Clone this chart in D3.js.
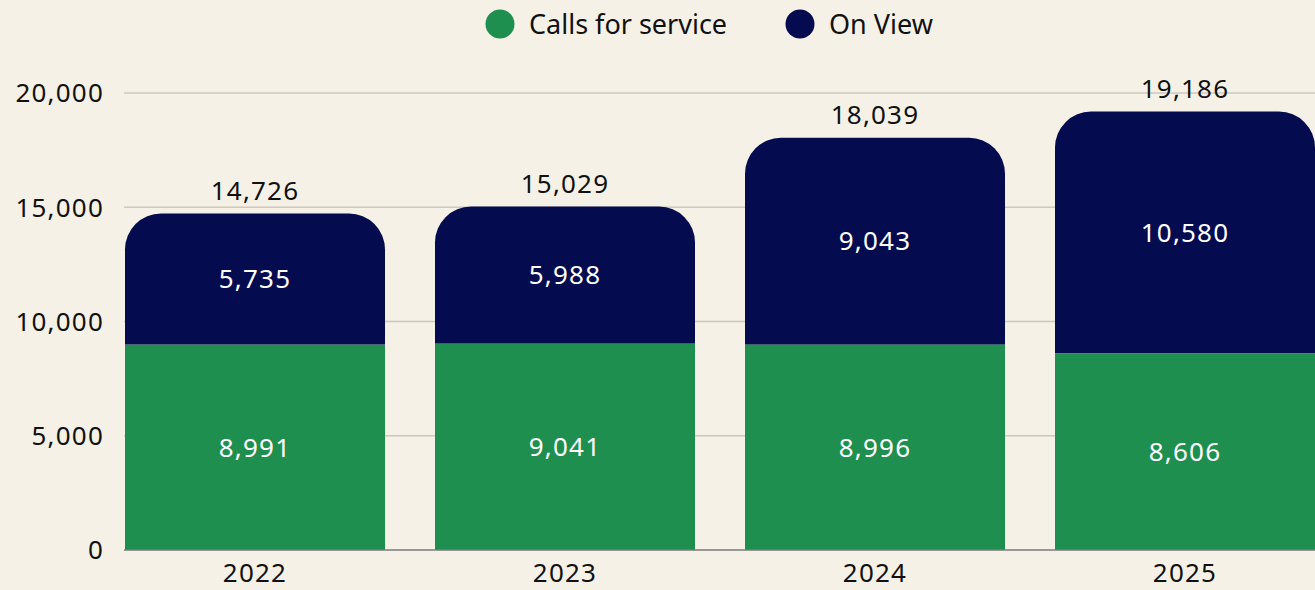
<!DOCTYPE html>
<html>
<head>
<meta charset="utf-8">
<script src="https://cdn.jsdelivr.net/npm/d3@7"></script>
<style>
  html, body { margin: 0; padding: 0; background: #f5f1e6; }
  svg { display: block; font-family: "Noto Sans", "Open Sans", sans-serif; }
  .num { letter-spacing: 1.2px; }
</style>
</head>
<body>
<svg id="mainsvg" width="1315" height="590"></svg>
<script>

// data
const years = ["2022", "2023", "2024", "2025"]
const callsForService = [8991, 9041, 8996, 8606]
const onView = [5735, 5988, 9043, 10580]
const totals = [14726, 15029, 18039, 19186]
const yTicks = [0, 5000, 10000, 15000, 20000]

const WIDTH = 1315, HEIGHT = 590
const MARGIN = { left: 125, right: 0, top: 93, bottom: 40 }
const GREEN = "#1e8f4e", NAVY = "#040b4f"
const FS = 26

let svg = d3.select("#mainsvg")

let x = d3.scaleBand()
  .domain(years)
  .range([MARGIN.left, WIDTH])
  .paddingInner(50 / 310)
  .paddingOuter(0)

let y = d3.scaleLinear()
  .domain([0, 20000])
  .range([HEIGHT - MARGIN.bottom, MARGIN.top])

const fmt = d3.format(",")

// gridlines
svg.append("g")
  .selectAll("line")
  .data(yTicks.filter(d => d > 0))
  .enter()
  .append("line")
  .attr("x1", MARGIN.left - 1)
  .attr("x2", WIDTH)
  .attr("y1", d => y(d))
  .attr("y2", d => y(d))
  .attr("stroke", "#cdc8bb")
  .attr("stroke-width", 1.5)

// y labels
svg.append("g")
  .selectAll("text")
  .data(yTicks)
  .enter()
  .append("text")
  .attr("class", "num")
  .attr("x", 104)
  .attr("y", d => y(d))
  .attr("dy", "0.36em")
  .attr("text-anchor", "end")
  .attr("font-size", FS)
  .attr("fill", "#111")
  .text(d => fmt(d))

// bars
const r = 36
const roundTop = function (x0, y0, w, h) {
  let rr = Math.min(r, h, w / 2)
  return `M${x0},${y0 + h} V${y0 + rr} A${rr},${rr} 0 0 1 ${x0 + rr},${y0} H${x0 + w - rr} A${rr},${rr} 0 0 1 ${x0 + w},${y0 + rr} V${y0 + h} Z`
}

let rows = years.map((yr, i) => ({ year: yr, calls: callsForService[i], view: onView[i], total: totals[i] }))

let bars = svg.append("g")

bars.selectAll("rect.calls")
  .data(rows)
  .enter()
  .append("rect")
  .attr("class", "calls")
  .attr("x", d => x(d.year))
  .attr("y", d => y(d.calls))
  .attr("width", x.bandwidth())
  .attr("height", d => y(0) - y(d.calls))
  .attr("fill", GREEN)

bars.selectAll("path.view")
  .data(rows)
  .enter()
  .append("path")
  .attr("class", "view")
  .attr("d", d => roundTop(x(d.year), y(d.calls + d.view), x.bandwidth(), y(d.calls) - y(d.calls + d.view)))
  .attr("fill", NAVY)

// baseline
svg.append("line")
  .attr("x1", MARGIN.left - 1)
  .attr("x2", WIDTH)
  .attr("y1", y(0))
  .attr("y2", y(0))
  .attr("stroke", "#7a7a7a")
  .attr("stroke-width", 1.5)

// segment labels
bars.selectAll("text.callsLbl")
  .data(rows)
  .enter()
  .append("text")
  .attr("class", "num")
  .attr("x", d => x(d.year) + x.bandwidth() / 2)
  .attr("y", d => (y(0) + y(d.calls)) / 2)
  .attr("dy", "0.36em")
  .attr("text-anchor", "middle")
  .attr("font-size", FS)
  .attr("fill", "#fff")
  .text(d => fmt(d.calls))

bars.selectAll("text.viewLbl")
  .data(rows)
  .enter()
  .append("text")
  .attr("class", "num")
  .attr("x", d => x(d.year) + x.bandwidth() / 2)
  .attr("y", d => (y(d.calls) + y(d.calls + d.view)) / 2)
  .attr("dy", "0.36em")
  .attr("text-anchor", "middle")
  .attr("font-size", FS)
  .attr("fill", "#fff")
  .text(d => fmt(d.view))

bars.selectAll("text.totalLbl")
  .data(rows)
  .enter()
  .append("text")
  .attr("class", "num")
  .attr("x", d => x(d.year) + x.bandwidth() / 2)
  .attr("y", d => y(d.total) - 14)
  .attr("text-anchor", "middle")
  .attr("font-size", FS)
  .attr("fill", "#111")
  .text(d => fmt(d.total))

// x labels
svg.append("g")
  .selectAll("text")
  .data(years)
  .enter()
  .append("text")
  .attr("class", "num")
  .attr("x", d => x(d) + x.bandwidth() / 2)
  .attr("y", 582)
  .attr("text-anchor", "middle")
  .attr("font-size", FS)
  .attr("fill", "#111")
  .text(d => d)

// legend
let legendItems = [
  { label: "Calls for service", color: GREEN, cx: 500 },
  { label: "On View", color: NAVY, cx: 800 }
]
let legend = svg.append("g")
legend.selectAll("circle")
  .data(legendItems)
  .enter()
  .append("circle")
  .attr("cx", d => d.cx)
  .attr("cy", 24)
  .attr("r", 14.5)
  .attr("fill", d => d.color)
legend.selectAll("text")
  .data(legendItems)
  .enter()
  .append("text")
  .attr("x", d => d.cx + 29)
  .attr("y", 24)
  .attr("dy", "0.36em")
  .attr("font-size", 27)
  .attr("fill", "#111")
  .text(d => d.label)
</script>
</body>
</html>
